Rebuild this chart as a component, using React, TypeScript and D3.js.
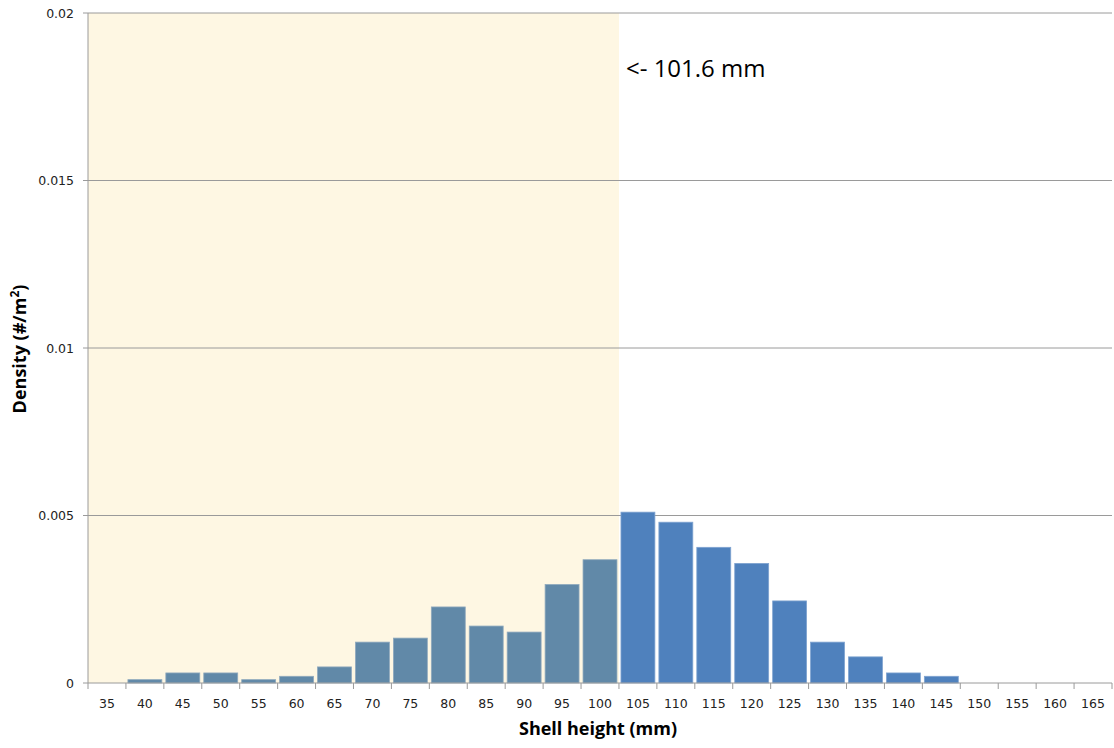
import React from 'react';
import * as d3 from 'd3';

const categories = ['35', '40', '45', '50', '55', '60', '65', '70', '75', '80', '85', '90', '95', '100',
  '105', '110', '115', '120', '125', '130', '135', '140', '145', '150', '155', '160', '165'];
const density = [0, 0.0001, 0.0003, 0.0003, 0.0001, 0.0002, 0.00048, 0.00122, 0.00134, 0.00227, 0.0017, 0.00152,
  0.00294, 0.00368, 0.0051, 0.0048, 0.00405, 0.00357, 0.00245, 0.00122, 0.00078, 0.0003, 0.0002, 0, 0, 0, 0];
const yTicks = [0, 0.005, 0.01, 0.015, 0.02];
const yTickLabels = ['0', '0.005', '0.01', '0.015', '0.02'];
const cutoffLabel = '<- 101.6 mm';
const shadeLastCategory = '100';

const width = 1114, height = 748;
const margin = { left: 88, right: 2, top: 13, bottom: 65 };

const App = () => {
  const x = d3.scaleBand().domain(categories).range([margin.left, width - margin.right]).padding(0);
  const y = d3.scaleLinear().domain([0, 0.02]).range([height - margin.bottom, margin.top]);
  const bw = x.bandwidth();
  const shadeEnd = (x(shadeLastCategory) as number) + bw;
  const y0 = y(0);
  const gap = 2;

  return (
    <svg width={width} height={height} style={{ position: 'absolute', left: 0, top: 0, background: '#fff' }}>
      <rect x={margin.left} y={margin.top} width={shadeEnd - margin.left} height={y0 - margin.top} fill="#fef7e3" />
      {yTicks.slice(1).map((t) => (
        <line key={t} x1={margin.left - 5} x2={width - margin.right} y1={y(t)} y2={y(t)} stroke="#9a9a9a" strokeWidth={1} />
      ))}
      {categories.map((c, i) => {
        const v = density[i];
        if (v <= 0) return null;
        const bx = (x(c) as number) + gap;
        const inShade = (x(c) as number) + bw <= shadeEnd + 0.5;
        return (
          <rect key={c} x={bx} y={y(v)} width={bw - 2 * gap} height={y0 - y(v)}
            fill={inShade ? '#6189a8' : '#4f81bd'} stroke={inShade ? '#8fa9bd' : '#7fa3d0'} strokeWidth={0.8} />
        );
      })}
      <line x1={margin.left} x2={margin.left} y1={margin.top} y2={y0} stroke="#9a9a9a" />
      <line x1={margin.left - 5} x2={width - margin.right} y1={y0} y2={y0} stroke="#9a9a9a" />
      {categories.map((c) => (
        <line key={'t' + c} x1={x(c) as number} x2={x(c) as number} y1={y0} y2={y0 + 6} stroke="#9a9a9a" />
      ))}
      <line x1={width - margin.right} x2={width - margin.right} y1={y0} y2={y0 + 6} stroke="#9a9a9a" />
      {yTicks.map((t, i) => (
        <text key={'y' + t} x={74} y={y(t) + 4.5} textAnchor="end" fontFamily="DejaVu Sans" fontSize={12.5} fill="#222">
          {yTickLabels[i]}
        </text>
      ))}
      {categories.map((c) => (
        <text key={'x' + c} x={(x(c) as number) + bw / 2} y={y0 + 25} textAnchor="middle" fontFamily="DejaVu Sans" fontSize={12.5} fill="#222">
          {c}
        </text>
      ))}
      <text x={598} y={735} textAnchor="middle" fontFamily="Open Sans" fontWeight="bold" fontSize={18} fill="#000">
        Shell height (mm)
      </text>
      <text transform={`translate(26,349) rotate(-90)`} textAnchor="middle" fontFamily="Open Sans" fontWeight="bold" fontSize={18} fill="#000">
        Density (#/m<tspan dy={-7} fontSize={12}>2</tspan><tspan dy={7}>)</tspan>
      </text>
      <text x={shadeEnd + 7} y={77} fontFamily="Open Sans" fontSize={24} fill="#000">
        {cutoffLabel}
      </text>
    </svg>
  );
};

export default App;
